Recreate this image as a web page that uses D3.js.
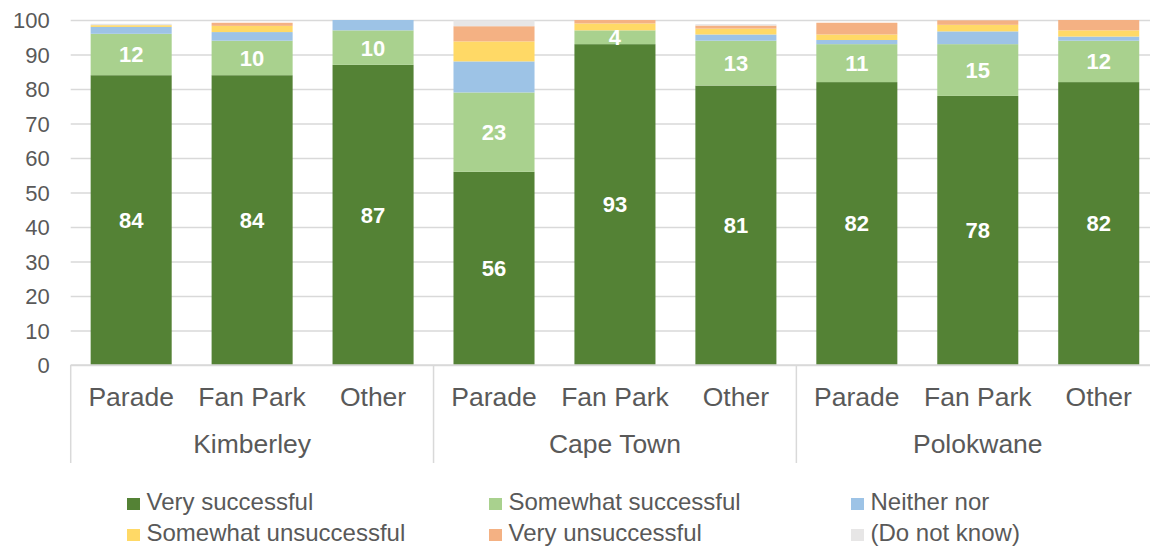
<!DOCTYPE html>
<html>
<head>
<meta charset="utf-8">
<script src="https://cdn.jsdelivr.net/npm/d3@7/dist/d3.min.js"></script>
<style>
  html, body { margin: 0; padding: 0; background: #ffffff; }
  svg { display: block; font-family: "Liberation Sans", Arial, sans-serif; }
</style>
</head>
<body>
<svg id="chart" width="1150" height="546"></svg>
<script>
// Cities and venues along the x axis
const groups = ["Kimberley", "Cape Town", "Polokwane"];
const places = ["Parade", "Fan Park", "Other"];

// Response categories, stacked bottom to top
const seriesNames = ["Very successful", "Somewhat successful", "Neither nor",
                     "Somewhat unsuccessful", "Very unsuccessful", "(Do not know)"];
const seriesColors = ["#548235", "#a9d18e", "#9dc3e6", "#ffd966", "#f4b183", "#e7e6e6"];

// Percentages per bar (Kimberley x3, Cape Town x3, Polokwane x3)
const verySuccessful       = [84, 84, 87, 56, 93, 81, 82, 78, 82];
const somewhatSuccessful   = [12, 10, 10, 23, 4, 13, 11, 15, 12];
const neitherNor           = [2, 2.5, 3, 9, 0, 1.8, 1.2, 3.7, 1.2];
const somewhatUnsuccessful = [0.5, 1.8, 0, 5.8, 2, 1.7, 1.6, 1.9, 1.8];
const veryUnsuccessful     = [0, 0.9, 0, 4.4, 1, 0.9, 3.4, 1.3, 3];
const doNotKnow            = [0.4, 0, 0, 1.7, 0, 0.4, 0, 0, 0];

const yTicks = [0, 10, 20, 30, 40, 50, 60, 70, 80, 90, 100];

const seriesValues = [verySuccessful, somewhatSuccessful, neitherNor,
                      somewhatUnsuccessful, veryUnsuccessful, doNotKnow];

// Build one row per bar
const rows = [];
groups.forEach((g, gi) => {
  places.forEach((p, pi) => {
    const i = gi * places.length + pi;
    const row = { id: g + "|" + p, group: g, place: p };
    seriesNames.forEach((s, si) => { row[s] = seriesValues[si][i]; });
    rows.push(row);
  });
});

const svg = d3.select("#chart");
const plotLeft = 70.7, plotRight = 1159.2, plotTop = 20, plotBottom = 365;
const textColor = "#595959";
const gridColor = "#d9d9d9";

const x = d3.scaleBand()
  .domain(rows.map(d => d.id))
  .range([plotLeft, plotRight])
  .paddingInner(0.33)
  .paddingOuter(0.165);

const y = d3.scaleLinear().domain([0, 100]).range([plotBottom, plotTop]);

// Horizontal gridlines and y tick labels
const yAxis = d3.axisLeft(y)
  .tickValues(yTicks)
  .tickSize(-(plotRight - plotLeft))
  .tickPadding(21);
const yg = svg.append("g")
  .attr("transform", `translate(${plotLeft},0)`)
  .call(yAxis);
yg.select(".domain").remove();
yg.selectAll(".tick line").attr("stroke", gridColor).attr("stroke-width", 1.5);
yg.selectAll(".tick text")
  .attr("fill", textColor)
  .style("font-size", "22px")
  .style("font-family", "'Liberation Sans', Arial, sans-serif")
  .attr("dy", "0.35em");

// Stacked bars
const stack = d3.stack().keys(seriesNames);
const layers = stack(rows);

const layerG = svg.append("g").selectAll("g")
  .data(layers)
  .join("g")
  .attr("fill", (d, i) => seriesColors[i]);

layerG.selectAll("rect")
  .data(d => d)
  .join("rect")
  .attr("x", d => x(d.data.id))
  .attr("width", x.bandwidth())
  .attr("y", d => y(d[1]))
  .attr("height", d => y(d[0]) - y(d[1]));

// Value labels for the two "successful" segments
layers.slice(0, 2).forEach(layer => {
  svg.append("g").selectAll("text")
    .data(layer)
    .join("text")
    .attr("x", d => x(d.data.id) + x.bandwidth() / 2)
    .attr("y", d => y((d[0] + d[1]) / 2))
    .attr("dy", "0.36em")
    .attr("text-anchor", "middle")
    .attr("fill", "#ffffff")
    .style("font-size", "22px")
    .style("font-weight", "bold")
    .text(d => Math.round(d[1] - d[0]));
});

// Category axis line
svg.append("line")
  .attr("x1", plotLeft).attr("x2", 1150)
  .attr("y1", plotBottom).attr("y2", plotBottom)
  .attr("stroke", gridColor).attr("stroke-width", 1.5);

// Venue labels
svg.append("g").selectAll("text")
  .data(rows)
  .join("text")
  .attr("x", d => x(d.id) + x.bandwidth() / 2)
  .attr("y", 406)
  .attr("text-anchor", "middle")
  .attr("fill", textColor)
  .style("font-size", "26.5px")
  .text(d => d.place);

// City labels and separators
const groupWidth = x.step() * places.length;
const groupX = gi => plotLeft + gi * groupWidth;
svg.append("g").selectAll("text")
  .data(groups)
  .join("text")
  .attr("x", (d, gi) => groupX(gi) + groupWidth / 2)
  .attr("y", 453)
  .attr("text-anchor", "middle")
  .attr("fill", textColor)
  .style("font-size", "26.5px")
  .text(d => d);

svg.append("g").selectAll("line")
  .data(d3.range(groups.length + 1))
  .join("line")
  .attr("x1", gi => groupX(gi)).attr("x2", gi => groupX(gi))
  .attr("y1", plotBottom).attr("y2", 463)
  .attr("stroke", gridColor).attr("stroke-width", 1.5);

// Legend, three columns by two rows
const legend = svg.append("g").selectAll("g")
  .data(seriesNames)
  .join("g")
  .attr("transform", (d, i) => `translate(${127 + (i % 3) * 362},${i < 3 ? 498 : 529})`);
legend.append("rect")
  .attr("width", 13).attr("height", 12)
  .attr("fill", (d, i) => seriesColors[i]);
legend.append("text")
  .attr("x", 19.5)
  .attr("y", 12)
  .attr("fill", textColor)
  .style("font-size", "24px")
  .text(d => d);
</script>
</body>
</html>
